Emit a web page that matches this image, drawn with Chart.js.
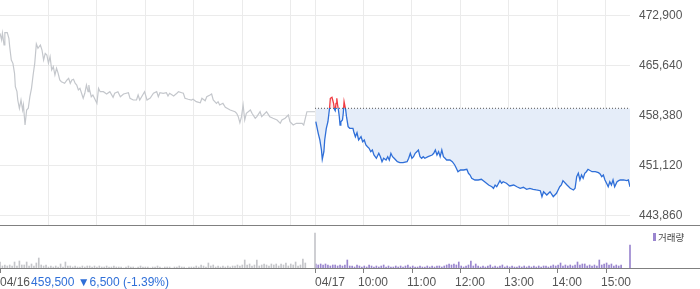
<!DOCTYPE html>
<html><head><meta charset="utf-8">
<script src="https://cdn.jsdelivr.net/npm/chart.js@4/dist/chart.umd.min.js"></script>
<style>
html,body{margin:0;padding:0;background:#fff;}
#wrap{position:relative;width:700px;height:289px;overflow:hidden;background:#fff;}
canvas{position:absolute;left:0;}
#price{top:0;width:700px;height:226px;}
#vol{top:226px;width:700px;height:63px;}
</style></head><body>
<div id="wrap"><canvas id="price" width="700" height="226"></canvas><canvas id="vol" width="700" height="63"></canvas></div>
<script>
// ---- data ----
const day1Minutes = [0,2,3,5,6,9,11,12,14,16,
18,19,21,22,24,26,28,29,31,33,
35,37,39,41,43,45,47,50,52,54,
56,58,60,62,64,66,68,70,72,74,
76,80,83,85,87,89,91,93,95,97,
99,101,103,105,107,109,110,111,113,115,
118,120,122,124,128,132,136,140,142,146,
149,153,159,161,165,169,171,173,179,182,
186,190,194,196,198,202,206,208,210,215,
219,221,225,227,229,233,237,239,243,248,
250,254,256,260,262,264,268,270,272,276,
279,285,291,293,295,297,299,301,303,305,
310,312,316,318,322,324,330,334,338,343,
347,349,353,357,359,363,367,374,376,378,
380,384,390];
const day1Prices = [470390,469420,470390,468690,470480,470480,469660,468440,466510,466030,
464580,462630,461910,460700,459500,460700,459250,459980,457070,459250,
459500,461180,462400,464330,466030,468830,468210,468690,467960,466510,
467480,467240,466030,466990,465060,465540,464330,465310,464580,463610,
463360,463130,463610,463850,463130,463610,463710,463130,462880,462160,
462400,461680,460950,461680,462880,461910,462880,462160,461180,461430,
460700,460220,462400,461910,461910,461570,461910,461100,461680,461910,
461180,461570,461760,460950,460700,460700,461430,460700,461910,460700,
460990,461680,461910,461180,461760,461680,461760,461280,461680,461280,
461680,461910,461760,461680,460950,460810,460700,460810,460460,460310,
460950,460600,461180,461430,461570,460700,460220,460460,459980,460220,
459640,459250,459000,458770,458280,457410,458280,459980,457800,458770,
459250,458770,458050,458280,459000,458280,459000,458280,458050,457800,
457320,457800,458050,458530,457550,457070,457320,457320,457070,458050,
459000,459000,459000];

const day2Minutes = [391,394,396,398,399,401,402,404,406,408,
409,411,413,414,415,416,417,418,419,420,
421,422,424,425,426,428,429,431,433,437,
438,440,442,444,447,449,451,453,455,457,
459,461,463,466,469,471,473,475,478,480,
482,484,486,488,490,492,495,499,504,506,
508,510,512,514,516,518,520,522,524,526,
530,535,537,539,541,543,545,547,549,551,
553,557,560,563,565,567,570,574,578,580,
582,584,588,592,596,600,605,609,611,613,
615,619,621,623,627,631,636,640,644,648,
652,656,660,664,669,671,673,677,681,685,
689,691,693,695,697,702,706,710,712,714,
716,718,720,722,724,726,728,733,737,741,
743,745,747,749,751,753,755,757,759,761,
764,766,768,772,776,778,780];
const day2Prices = [457550,455870,454900,453440,452090,453200,454900,456590,457550,459500,
460950,461100,460220,459350,459150,460220,460950,459980,459250,458380,
457070,457550,457800,458770,460460,459250,458280,456830,456590,456590,
456100,455370,455950,454900,455370,454650,454900,454170,453920,453690,
453200,453440,452720,452240,452960,452470,451740,452240,451990,452470,
451990,452960,452470,452240,451990,451740,451600,451600,451740,452240,
452960,452240,452470,452960,453200,453440,452470,452240,452470,452240,
452470,452720,452960,453440,452720,453200,452470,453440,452470,452240,
451990,451990,451740,451270,450790,450290,450540,450540,450640,450060,
449810,449330,449090,449090,449190,448840,448360,448110,447880,448360,
448110,448990,448610,448840,448610,448220,448360,448110,447880,448030,
447740,447880,447740,447640,447530,446660,447390,446910,447390,446660,
447160,447640,448110,448360,448990,448360,447880,447640,447880,449570,
450060,449090,449810,449330,450060,450290,450640,450290,450290,450150,
449960,449570,449810,449090,448610,448110,448840,448360,449090,448110,
448840,448990,449090,449090,448990,449090,448110];

const prevClose = 459500;
const priceTicks = [443860, 451120, 458380, 465640, 472900];
const priceMin = 442553, priceMax = 475223;

// volume: one bar per 3-minute slot
const volStep = 3;
const volDay1Start = 0;
const volDay1 = [6,2,3,2,3,2,6,2,7,3,
3,6,2,4,2,5,10,3,2,3,
1,2,1,2,1,4,1,6,2,2,
1,2,1,1,2,1,2,2,1,2,
1,2,1,1,2,1,1,2,1,1,
1,0,1,2,1,1,0,1,2,1,
1,1,0,1,1,2,1,0,1,1,
1,0,1,1,2,1,1,0,1,1,
1,2,1,3,2,1,5,2,3,1,
2,1,2,1,2,1,2,2,3,2,
3,8,3,4,2,3,8,2,3,4,
3,2,4,3,4,2,4,3,5,2,
4,3,6,2,3,9,5];
const volDay2Start = 391;
const volDay2 = [4,3,4,3,4,3,2,3,3,2,
3,2,3,8,2,2,1,3,2,1,
2,1,3,2,1,2,1,2,3,1,
2,1,1,2,1,2,1,2,3,1,
2,1,1,2,1,1,2,1,2,1,
2,2,1,2,3,4,3,4,3,6,
2,1,2,3,7,2,4,2,1,2,
1,2,3,1,2,1,2,3,1,2,
1,2,1,1,2,1,2,1,2,1,
2,1,2,1,2,2,1,2,3,2,
3,5,2,3,2,3,2,3,6,3,
4,4,2,3,2,3,2,8,3,4,
5,3,4,2,3,2,3];
const closeAuctionMinutes = [390, 780];
const closeAuctionVolumes = [35, 23];
const volMax = 40;

const gridMinutes = [60,120,180,240,300,360,390,450,510,570,630,690,750];
const tickMinutes = [0,390,450,510,570,630,690,750];
const tickLabels = ['04/16','04/17','10:00','11:00','12:00','13:00','14:00','15:00'];
const changeText = '459,500 \u25BC6,500 (-1.39%)';
const legendLabel = '거래량';

// ---- styles ----
const FONT = '12px "Liberation Sans", Arial, "DejaVu Sans", sans-serif';
const GRAY_LINE = '#c4c7cc';
const BLUE = '#2f6fd8';
const RED = '#f03a40';
const FILL = '#e5edf9';
const GRID = '#ebebeb';
const AXIS = '#808080';
const TEXT = '#555555';
const PURPLE = '#9a86cf';
const VOL_GRAY = '#c5c6ca';

function lineColor(context) {
  const chart = context.chart;
  const { ctx, chartArea, scales } = chart;
  if (!chartArea) return BLUE;
  const yRef = scales.y.getPixelForValue(prevClose);
  const h = chartArea.bottom - chartArea.top;
  const t = Math.min(1, Math.max(0, (yRef - chartArea.top) / h));
  const g = ctx.createLinearGradient(0, chartArea.top, 0, chartArea.bottom);
  g.addColorStop(0, RED); g.addColorStop(t, RED);
  g.addColorStop(t, BLUE); g.addColorStop(1, BLUE);
  return g;
}

const separatorPlugin = {
  id: 'separator',
  afterDraw(chart) {
    const { ctx, chartArea } = chart;
    ctx.save();
    ctx.strokeStyle = AXIS; ctx.lineWidth = 1;
    ctx.beginPath();
    ctx.moveTo(0, chartArea.bottom + 0.5);
    ctx.lineTo(chart.width, chartArea.bottom + 0.5);
    ctx.stroke();
    ctx.restore();
  }
};

const volumeAxisPlugin = {
  id: 'volAxis',
  afterDraw(chart) {
    const { ctx, chartArea, scales: { x } } = chart;
    const yb = chartArea.bottom;
    ctx.save();
    ctx.strokeStyle = AXIS; ctx.lineWidth = 1;
    ctx.beginPath(); ctx.moveTo(0, yb + 0.5); ctx.lineTo(chart.width, yb + 0.5); ctx.stroke();
    ctx.font = FONT; ctx.textBaseline = 'middle'; ctx.textAlign = 'left'; ctx.fillStyle = TEXT;
    tickMinutes.forEach((m, i) => {
      const px = Math.round(x.getPixelForValue(m)) + 0.5;
      ctx.beginPath(); ctx.moveTo(px, yb); ctx.lineTo(px, yb + 5); ctx.stroke();
      const label = tickLabels[i];
      const lx = label.indexOf('/') >= 0 ? Math.max(0, px - 0.5) : px - 5.5;
      ctx.fillText(label, lx, yb + 15);
    });
    const w = ctx.measureText(tickLabels[0]).width;
    ctx.fillStyle = BLUE;
    ctx.fillText(changeText, w + 1, yb + 15);
    // legend
    const lx0 = chartArea.right + 23;
    ctx.fillStyle = PURPLE;
    ctx.fillRect(lx0, 7, 3, 8);
    ctx.fillStyle = '#444';
    ctx.font = '9.5px "Noto Sans CJK KR", sans-serif';
    ctx.fillText(legendLabel, lx0 + 5, 11);
    ctx.restore();
  }
};

new Chart(document.getElementById('price'), {
  type: 'line',
  data: {
    datasets: [
      {
        label: 'prev', data: [{ x: 390, y: prevClose }, { x: 780, y: prevClose }],
        borderColor: '#555', borderWidth: 1, borderDash: [1, 2], pointRadius: 0, fill: false, order: 0
      },
      {
        label: '04/17', data: day2Minutes.map((m, i) => ({ x: m, y: day2Prices[i] })),
        borderColor: lineColor, borderWidth: 1.3, pointRadius: 0, tension: 0,
        fill: { target: { value: prevClose }, above: 'rgba(250,220,220,0.5)', below: FILL }, order: 1
      },
      {
        label: '04/16', data: day1Minutes.map((m, i) => ({ x: m, y: day1Prices[i] })),
        borderColor: GRAY_LINE, borderWidth: 1.2, pointRadius: 0, tension: 0, fill: false, order: 2
      }
    ]
  },
  options: {
    responsive: false, animation: false, events: [],
    layout: { padding: { top: 0, bottom: 1, left: 0, right: 0 } },
    plugins: { legend: { display: false }, tooltip: { enabled: false } },
    scales: {
      x: {
        type: 'linear', min: 0, max: 780, offset: false,
        afterBuildTicks(s) { s.ticks = gridMinutes.map(v => ({ value: v })); },
        ticks: { display: false, autoSkip: false },
        grid: { color: GRID, drawTicks: false },
        border: { display: false },
        afterFit(s) { s.height = 0; s.paddingLeft = 0; s.paddingRight = 0; }
      },
      y: {
        position: 'right', min: priceMin, max: priceMax,
        afterBuildTicks(s) { s.ticks = priceTicks.map(v => ({ value: v })); },
        ticks: { padding: 9, color: TEXT, font: { family: '"Liberation Sans", Arial, sans-serif', size: 12 },
          autoSkip: false, callback: v => Number(v).toLocaleString('en-US') },
        grid: { color: GRID, drawTicks: false },
        border: { display: false },
        afterFit(s) { s.width = 70; s.paddingTop = 0; s.paddingBottom = 0; }
      }
    }
  },
  plugins: [separatorPlugin]
});

new Chart(document.getElementById('vol'), {
  type: 'bar',
  data: {
    datasets: [
      {
        label: 'vol1',
        data: volDay1.map((v, i) => ({ x: volDay1Start + i * volStep, y: v }))
          .concat([{ x: closeAuctionMinutes[0], y: closeAuctionVolumes[0] }]),
        backgroundColor: VOL_GRAY, barThickness: 1, grouped: false, clip: false
      },
      {
        label: legendLabel,
        data: volDay2.map((v, i) => ({ x: volDay2Start + i * volStep, y: v }))
          .concat([{ x: closeAuctionMinutes[1], y: closeAuctionVolumes[1] }]),
        backgroundColor: PURPLE, barThickness: 1, grouped: false, clip: false
      }
    ]
  },
  options: {
    responsive: false, animation: false, events: [],
    layout: { padding: { top: 2, right: 70, bottom: 21, left: 0 } },
    plugins: { legend: { display: false }, tooltip: { enabled: false } },
    scales: {
      x: { type: 'linear', min: 0, max: 780, offset: false, display: false },
      y: { min: 0, max: volMax, display: false }
    }
  },
  plugins: [volumeAxisPlugin]
});
</script>
</body></html>
